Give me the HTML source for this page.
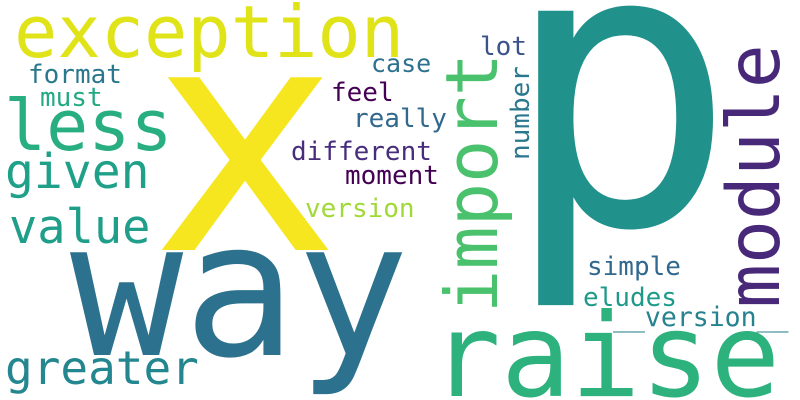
<!DOCTYPE html>
<html><head><meta charset="utf-8"><style>
html,body{margin:0;padding:0;background:#fff;width:800px;height:400px;overflow:hidden;}
svg{display:block;overflow:hidden;}
text{font-family:"DejaVu Sans Mono","Liberation Mono",monospace;}
</style></head><body>
<svg width="800" height="400" viewBox="0 0 800 400">
<rect width="800" height="400" fill="#fff"/>
<text x="14" y="57" font-size="72" fill="#dfe318">exception</text>
<text x="150" y="250" font-size="316" fill="#f6e620">x</text>
<text x="70" y="355" font-size="188" fill="#2c728e">way</text>
<text x="502" y="224" font-size="390" fill="#21918c">p</text>
<text x="431" y="396" font-size="116" fill="#2db27d">raise</text>
<text x="4" y="150" font-size="70" fill="#28ae80">less</text>
<text x="5" y="188" font-size="48" fill="#1fa088">given</text>
<text x="9" y="243" font-size="47" fill="#1f9e89">value</text>
<text x="5" y="384" font-size="46" fill="#24868e">greater</text>
<text x="28" y="83" font-size="26" fill="#2a788e">format</text>
<text x="40" y="106" font-size="26" fill="#23a983">must</text>
<text x="371" y="72" font-size="25" fill="#2c728e">case</text>
<text x="331" y="101" font-size="26" fill="#440154">feel</text>
<text x="353" y="127" font-size="26" fill="#31688e">really</text>
<text x="291" y="160" font-size="26" fill="#472d7b">different</text>
<text x="345" y="184" font-size="26" fill="#440154">moment</text>
<text x="305" y="217" font-size="26" fill="#a0da39">version</text>
<text x="480" y="55" font-size="26" fill="#3b528b">lot</text>
<text transform="translate(529,160) rotate(-90)" x="0" y="0" font-size="26" fill="#2a788e">number</text>
<text transform="translate(497,313) rotate(-90)" x="0" y="0" font-size="72" fill="#4ac16d">import</text>
<text transform="translate(779,308) rotate(-90)" x="0" y="0" font-size="73" fill="#482878">module</text>
<text x="587" y="275" font-size="26" fill="#31688e">simple</text>
<text x="583" y="306" font-size="26" fill="#1f9a8a">eludes</text>
<text x="613" y="326" font-size="26.5" fill="#26828e">__version__</text>
</svg>
</body></html>
